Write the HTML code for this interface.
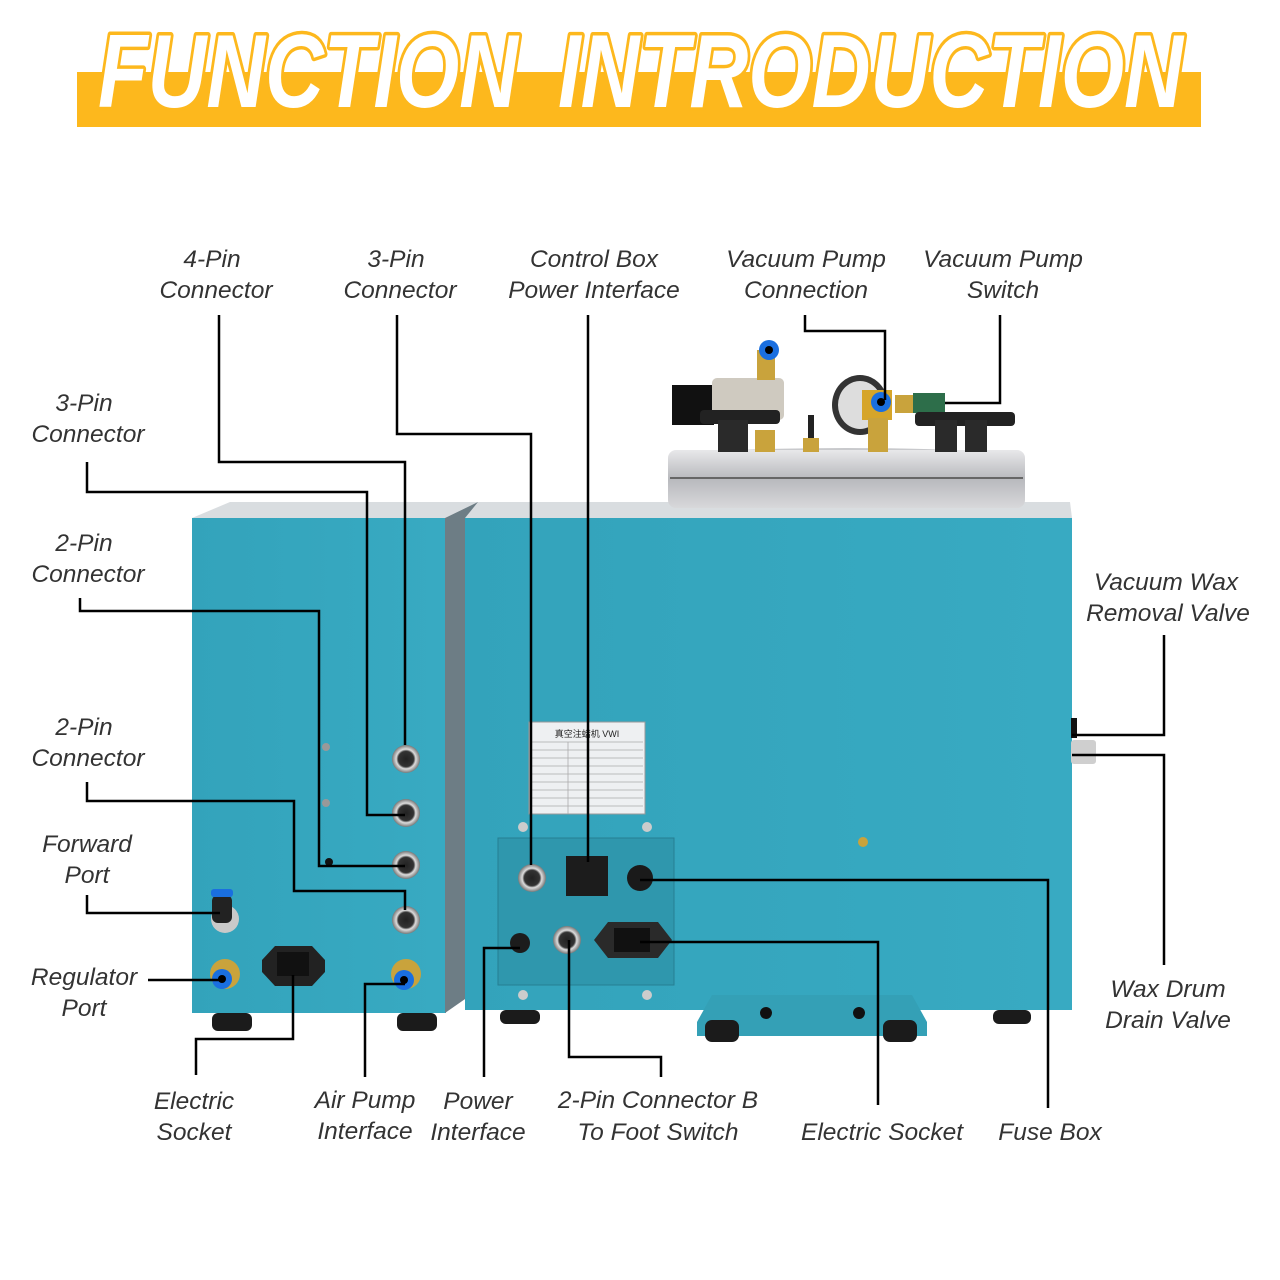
<!DOCTYPE html>
<html><head><meta charset="utf-8"><style>
html,body{margin:0;padding:0;background:#fff;}
svg{display:block;}
.l{font-family:"Liberation Sans",sans-serif;font-style:italic;font-size:24.5px;fill:#333;text-anchor:middle;}
.w{fill:none;stroke:#000;stroke-width:2.5;}
.t{font-family:"Liberation Sans",sans-serif;font-weight:bold;font-style:italic;font-size:104px;fill:#fff;stroke:#fdb81d;stroke-width:7;paint-order:stroke;stroke-linejoin:round;}
</style></head><body>
<svg width="1280" height="1280" viewBox="0 0 1280 1280" xmlns="http://www.w3.org/2000/svg">
<defs>
<radialGradient id="cn" cx="50%" cy="50%" r="50%"><stop offset="0" stop-color="#222"/><stop offset="0.55" stop-color="#333"/><stop offset="0.7" stop-color="#ddd"/><stop offset="1" stop-color="#777"/></radialGradient>
<linearGradient id="lid" x1="0" y1="0" x2="0" y2="1"><stop offset="0" stop-color="#e8e8ea"/><stop offset="0.5" stop-color="#b8b9bd"/><stop offset="1" stop-color="#d8d8da"/></linearGradient>
<linearGradient id="tb" x1="0" y1="0" x2="1" y2="0"><stop offset="0" stop-color="#33a3bb"/><stop offset="1" stop-color="#38aac2"/></linearGradient>
</defs>
<!-- Title -->
<rect x="77" y="72" width="1124" height="55" fill="#fdb81d"/>
<text class="t" x="98" y="107" textLength="420" lengthAdjust="spacingAndGlyphs">FUNCTION</text>
<text class="t" x="558" y="107" textLength="625" lengthAdjust="spacingAndGlyphs">INTRODUCTION</text>

<!-- Left box -->
<polygon points="192,518 230,502 478,502 445,518" fill="#d9dde0"/>
<rect x="192" y="518" width="254" height="495" fill="url(#tb)"/>
<polygon points="445,518 478,502 478,990 445,1013" fill="#6d7d85"/>
<rect x="212" y="1013" width="40" height="18" rx="6" fill="#1b1b1b"/>
<rect x="397" y="1013" width="40" height="18" rx="6" fill="#1b1b1b"/>
<circle cx="406" cy="759" r="14" fill="url(#cn)"/>
<circle cx="406" cy="813" r="14" fill="url(#cn)"/>
<circle cx="406" cy="865" r="14" fill="url(#cn)"/>
<circle cx="406" cy="920" r="14" fill="url(#cn)"/>
<circle cx="326" cy="747" r="4" fill="#999"/><circle cx="326" cy="803" r="4" fill="#999"/>
<circle cx="329" cy="862" r="4" fill="#111"/>
<circle cx="225" cy="919" r="14" fill="#c9c9c9"/><rect x="212" y="895" width="20" height="28" rx="6" fill="#222"/><rect x="211" y="889" width="22" height="8" rx="3" fill="#1a6fe0"/>
<circle cx="225" cy="974" r="15" fill="#c9a33c"/><circle cx="222" cy="979" r="10" fill="#1a6fe0"/><circle cx="222" cy="979" r="4" fill="#000"/>
<circle cx="406" cy="974" r="15" fill="#c9a33c"/><circle cx="404" cy="980" r="10" fill="#1a6fe0"/><circle cx="404" cy="980" r="4" fill="#000"/>
<polygon points="262,960 275,946 312,946 325,960 325,972 312,986 275,986 262,972" fill="#222"/>
<rect x="277" y="952" width="32" height="24" fill="#111"/>

<!-- Main box -->
<polygon points="465,518 478,502 1070,502 1072,518" fill="#d9dde0"/>
<rect x="465" y="518" width="607" height="492" fill="url(#tb)"/>
<ellipse cx="846" cy="458" rx="176" ry="10" fill="#c8c9cc"/>
<rect x="668" y="450" width="357" height="58" rx="8" fill="url(#lid)"/>
<line x1="670" y1="478" x2="1023" y2="478" stroke="#666" stroke-width="2"/>
<rect x="672" y="385" width="42" height="40" fill="#111"/>
<rect x="712" y="378" width="72" height="42" rx="5" fill="#cfcac0"/>
<rect x="757" y="350" width="18" height="30" fill="#c9a33c"/><circle cx="769" cy="350" r="10" fill="#1a6fe0"/><circle cx="769" cy="350" r="4" fill="#000"/>
<rect x="700" y="410" width="80" height="14" rx="4" fill="#222"/><rect x="718" y="420" width="30" height="32" fill="#2a2a2a"/>
<rect x="755" y="430" width="20" height="22" fill="#c9a33c"/>
<ellipse cx="860" cy="405" rx="28" ry="30" fill="#333"/><ellipse cx="860" cy="405" rx="22" ry="24" fill="#ddd"/>
<rect x="862" y="390" width="30" height="30" fill="#d6a52a"/><circle cx="881" cy="402" r="10" fill="#1a6fe0"/><circle cx="881" cy="402" r="4" fill="#000"/>
<rect x="868" y="418" width="20" height="34" fill="#c9a33c"/>
<rect x="895" y="395" width="20" height="18" fill="#c9a33c"/><rect x="913" y="393" width="32" height="20" fill="#2d6e4a"/>
<rect x="915" y="412" width="100" height="14" rx="4" fill="#222"/><rect x="935" y="420" width="22" height="32" fill="#2a2a2a"/><rect x="965" y="420" width="22" height="32" fill="#2a2a2a"/>
<rect x="808" y="415" width="6" height="25" fill="#222"/><rect x="803" y="438" width="16" height="14" fill="#c9a33c"/>
<rect x="529" y="722" width="116" height="92" fill="#eef0f2" stroke="#999"/>
<text x="587" y="737" font-family="Liberation Sans, Noto Sans CJK SC, sans-serif" font-size="9" text-anchor="middle" fill="#222">真空注蜡机 VWI</text>
<g stroke="#aaa" stroke-width="0.8"><line x1="531" y1="742" x2="643" y2="742"/><line x1="531" y1="750" x2="643" y2="750"/><line x1="531" y1="758" x2="643" y2="758"/><line x1="531" y1="766" x2="643" y2="766"/><line x1="531" y1="774" x2="643" y2="774"/><line x1="531" y1="782" x2="643" y2="782"/><line x1="531" y1="790" x2="643" y2="790"/><line x1="531" y1="798" x2="643" y2="798"/><line x1="531" y1="806" x2="643" y2="806"/><line x1="568" y1="742" x2="568" y2="814"/></g>
<circle cx="523" cy="827" r="5" fill="#ccc"/><circle cx="647" cy="827" r="5" fill="#ccc"/><circle cx="523" cy="995" r="5" fill="#ccc"/><circle cx="647" cy="995" r="5" fill="#ccc"/>
<circle cx="863" cy="842" r="5" fill="#c9a33c"/>
<rect x="498" y="838" width="176" height="147" fill="#2f97ad" stroke="#267f92"/>
<rect x="566" y="856" width="42" height="40" fill="#1c1c1c"/>
<circle cx="532" cy="878" r="14" fill="url(#cn)"/>
<circle cx="640" cy="878" r="13" fill="#1a1a1a"/>
<circle cx="520" cy="943" r="10" fill="#1c1c1c"/>
<circle cx="567" cy="940" r="14" fill="url(#cn)"/>
<polygon points="594,940 608,922 658,922 672,940 658,958 608,958" fill="#2a2a2a"/><rect x="614" y="928" width="36" height="24" fill="#111"/>
<polygon points="697,1022 712,995 912,995 927,1022 927,1036 697,1036" fill="#34a0b6"/>
<rect x="705" y="1020" width="34" height="22" rx="7" fill="#1b1b1b"/>
<rect x="883" y="1020" width="34" height="22" rx="7" fill="#1b1b1b"/>
<rect x="500" y="1010" width="40" height="14" rx="6" fill="#1b1b1b"/>
<rect x="993" y="1010" width="38" height="14" rx="6" fill="#1b1b1b"/>
<circle cx="766" cy="1013" r="6" fill="#111"/><circle cx="859" cy="1013" r="6" fill="#111"/>
<rect x="1071" y="718" width="6" height="20" fill="#111"/>
<rect x="1071" y="740" width="25" height="24" rx="3" fill="#cfcfcf"/>

<g class="w">
<polyline points="219,315 219,462 405,462 405,745"/>
<polyline points="397,315 397,434 531,434 531,865"/>
<polyline points="588,315 588,862"/>
<polyline points="805,315 805,331 885,331 885,400"/>
<polyline points="1000,315 1000,403 945,403"/>
<polyline points="87,462 87,492 367,492 367,815 405,815"/>
<polyline points="80,598 80,611 319,611 319,866 405,866"/>
<polyline points="87,782 87,801 294,801 294,891 405,891 405,910"/>
<polyline points="87,895 87,913 220,913"/>
<polyline points="148,980 220,980"/>
<polyline points="196,1075 196,1039 293,1039 293,975"/>
<polyline points="365,1077 365,984 405,984"/>
<polyline points="484,1077 484,948 520,948"/>
<polyline points="661,1077 661,1057 569,1057 569,940"/>
<polyline points="878,1105 878,942 640,942"/>
<polyline points="1048,1108 1048,880 640,880"/>
<polyline points="1164,635 1164,735 1072,735"/>
<polyline points="1164,965 1164,755 1072,755"/>
</g>

<text class="l" x="212" y="267">4-Pin</text><text class="l" x="216" y="298">Connector</text>
<text class="l" x="396" y="267">3-Pin</text><text class="l" x="400" y="298">Connector</text>
<text class="l" x="594" y="267">Control Box</text><text class="l" x="594" y="298">Power Interface</text>
<text class="l" x="806" y="267">Vacuum Pump</text><text class="l" x="806" y="298">Connection</text>
<text class="l" x="1003" y="267">Vacuum Pump</text><text class="l" x="1003" y="298">Switch</text>
<text class="l" x="84" y="411">3-Pin</text><text class="l" x="88" y="442">Connector</text>
<text class="l" x="84" y="551">2-Pin</text><text class="l" x="88" y="582">Connector</text>
<text class="l" x="84" y="735">2-Pin</text><text class="l" x="88" y="766">Connector</text>
<text class="l" x="87" y="852">Forward</text><text class="l" x="87" y="883">Port</text>
<text class="l" x="84" y="985">Regulator</text><text class="l" x="84" y="1016">Port</text>
<text class="l" x="194" y="1109">Electric</text><text class="l" x="194" y="1140">Socket</text>
<text class="l" x="365" y="1108">Air Pump</text><text class="l" x="365" y="1139">Interface</text>
<text class="l" x="478" y="1109">Power</text><text class="l" x="478" y="1140">Interface</text>
<text class="l" x="658" y="1108">2-Pin Connector B</text><text class="l" x="658" y="1140">To Foot Switch</text>
<text class="l" x="882" y="1140">Electric Socket</text>
<text class="l" x="1050" y="1140">Fuse Box</text>
<text class="l" x="1166" y="590">Vacuum Wax</text><text class="l" x="1168" y="621">Removal Valve</text>
<text class="l" x="1168" y="997">Wax Drum</text><text class="l" x="1168" y="1028">Drain Valve</text>
</svg>
</body></html>
